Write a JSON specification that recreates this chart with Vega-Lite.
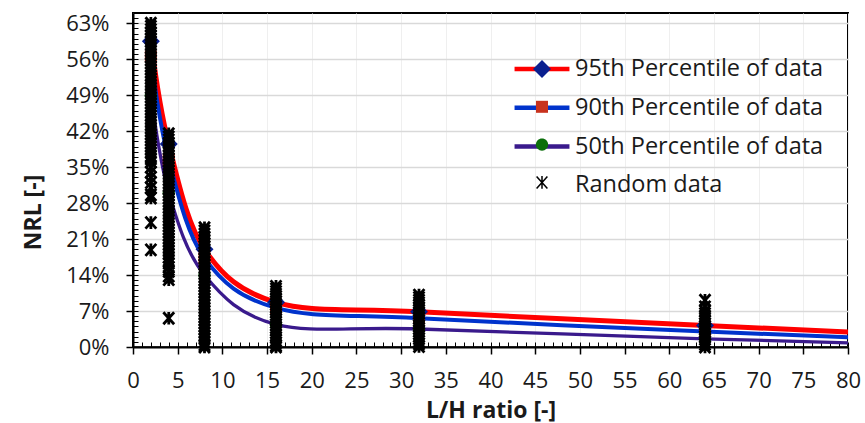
{
"$schema": "https://vega.github.io/schema/vega-lite/v6.json",
"width": 715, "height": 334,
"autosize": {"type": "none"},
"padding": {"left": 133, "top": 13, "right": 17, "bottom": 76},
"background": "white",
"config": {
  "view": {"stroke": "black", "strokeWidth": 2},
  "font": "Open Sans",
  "axis": {"labelFont": "Open Sans", "titleFont": "Open Sans", "labelColor": "#1a1a1a", "titleColor": "#1a1a1a"},
  "legend": {"labelFont": "Open Sans"}
},
"datasets": {
  "p95": [{"x":2,"y":0.595},{"x":4,"y":0.395},{"x":8,"y":0.19},{"x":16,"y":0.087},{"x":32,"y":0.0685},{"x":64,"y":0.042},{"x":80,"y":0.029}],
  "p90": [{"x":2,"y":0.565},{"x":4,"y":0.365},{"x":8,"y":0.173},{"x":16,"y":0.076},{"x":32,"y":0.056},{"x":64,"y":0.030},{"x":80,"y":0.019}],
  "p50": [{"x":2,"y":0.49},{"x":4,"y":0.30},{"x":8,"y":0.14},{"x":16,"y":0.044},{"x":32,"y":0.035},{"x":64,"y":0.016},{"x":80,"y":0.008}],
  "rnd": [
    {"x":2,"y":0.630},{"x":2,"y":0.624},{"x":2,"y":0.618},{"x":2,"y":0.612},{"x":2,"y":0.606},{"x":2,"y":0.600},{"x":2,"y":0.594},{"x":2,"y":0.588},{"x":2,"y":0.582},{"x":2,"y":0.576},{"x":2,"y":0.570},{"x":2,"y":0.564},{"x":2,"y":0.558},{"x":2,"y":0.552},{"x":2,"y":0.546},{"x":2,"y":0.540},{"x":2,"y":0.534},{"x":2,"y":0.528},{"x":2,"y":0.522},{"x":2,"y":0.516},{"x":2,"y":0.510},{"x":2,"y":0.504},{"x":2,"y":0.498},{"x":2,"y":0.492},{"x":2,"y":0.486},{"x":2,"y":0.480},{"x":2,"y":0.474},{"x":2,"y":0.468},{"x":2,"y":0.462},{"x":2,"y":0.456},{"x":2,"y":0.450},{"x":2,"y":0.444},{"x":2,"y":0.438},{"x":2,"y":0.432},{"x":2,"y":0.426},{"x":2,"y":0.420},{"x":2,"y":0.414},{"x":2,"y":0.408},{"x":2,"y":0.402},{"x":2,"y":0.396},{"x":2,"y":0.390},{"x":2,"y":0.384},{"x":2,"y":0.378},{"x":2,"y":0.372},{"x":2,"y":0.366},{"x":2,"y":0.360},{"x":2,"y":0.350},{"x":2,"y":0.340},{"x":2,"y":0.330},{"x":2,"y":0.320},{"x":2,"y":0.310},{"x":2,"y":0.296},{"x":2,"y":0.290},{"x":2,"y":0.242},{"x":2,"y":0.189},
    {"x":4,"y":0.415},{"x":4,"y":0.409},{"x":4,"y":0.403},{"x":4,"y":0.397},{"x":4,"y":0.391},{"x":4,"y":0.385},{"x":4,"y":0.379},{"x":4,"y":0.373},{"x":4,"y":0.367},{"x":4,"y":0.361},{"x":4,"y":0.355},{"x":4,"y":0.349},{"x":4,"y":0.343},{"x":4,"y":0.337},{"x":4,"y":0.331},{"x":4,"y":0.325},{"x":4,"y":0.319},{"x":4,"y":0.313},{"x":4,"y":0.307},{"x":4,"y":0.301},{"x":4,"y":0.295},{"x":4,"y":0.289},{"x":4,"y":0.283},{"x":4,"y":0.277},{"x":4,"y":0.271},{"x":4,"y":0.265},{"x":4,"y":0.259},{"x":4,"y":0.253},{"x":4,"y":0.247},{"x":4,"y":0.241},{"x":4,"y":0.235},{"x":4,"y":0.229},{"x":4,"y":0.223},{"x":4,"y":0.217},{"x":4,"y":0.211},{"x":4,"y":0.205},{"x":4,"y":0.199},{"x":4,"y":0.193},{"x":4,"y":0.187},{"x":4,"y":0.181},{"x":4,"y":0.175},{"x":4,"y":0.169},{"x":4,"y":0.163},{"x":4,"y":0.155},{"x":4,"y":0.147},{"x":4,"y":0.138},{"x":4,"y":0.131},{"x":4,"y":0.056},
    {"x":8,"y":0.232},{"x":8,"y":0.226},{"x":8,"y":0.220},{"x":8,"y":0.214},{"x":8,"y":0.208},{"x":8,"y":0.202},{"x":8,"y":0.196},{"x":8,"y":0.190},{"x":8,"y":0.184},{"x":8,"y":0.178},{"x":8,"y":0.172},{"x":8,"y":0.166},{"x":8,"y":0.160},{"x":8,"y":0.154},{"x":8,"y":0.148},{"x":8,"y":0.142},{"x":8,"y":0.136},{"x":8,"y":0.130},{"x":8,"y":0.124},{"x":8,"y":0.118},{"x":8,"y":0.112},{"x":8,"y":0.106},{"x":8,"y":0.100},{"x":8,"y":0.094},{"x":8,"y":0.088},{"x":8,"y":0.082},{"x":8,"y":0.076},{"x":8,"y":0.070},{"x":8,"y":0.064},{"x":8,"y":0.058},{"x":8,"y":0.052},{"x":8,"y":0.046},{"x":8,"y":0.040},{"x":8,"y":0.034},{"x":8,"y":0.028},{"x":8,"y":0.022},{"x":8,"y":0.016},{"x":8,"y":0.010},{"x":8,"y":0.004},{"x":8,"y":0.0},
    {"x":16,"y":0.118},{"x":16,"y":0.113},{"x":16,"y":0.108},{"x":16,"y":0.103},{"x":16,"y":0.098},{"x":16,"y":0.093},{"x":16,"y":0.088},{"x":16,"y":0.083},{"x":16,"y":0.078},{"x":16,"y":0.073},{"x":16,"y":0.068},{"x":16,"y":0.063},{"x":16,"y":0.058},{"x":16,"y":0.053},{"x":16,"y":0.048},{"x":16,"y":0.043},{"x":16,"y":0.038},{"x":16,"y":0.033},{"x":16,"y":0.028},{"x":16,"y":0.023},{"x":16,"y":0.018},{"x":16,"y":0.013},{"x":16,"y":0.008},{"x":16,"y":0.003},{"x":16,"y":0.0},
    {"x":32,"y":0.101},{"x":32,"y":0.096},{"x":32,"y":0.091},{"x":32,"y":0.086},{"x":32,"y":0.081},{"x":32,"y":0.076},{"x":32,"y":0.071},{"x":32,"y":0.066},{"x":32,"y":0.061},{"x":32,"y":0.056},{"x":32,"y":0.051},{"x":32,"y":0.046},{"x":32,"y":0.041},{"x":32,"y":0.036},{"x":32,"y":0.031},{"x":32,"y":0.026},{"x":32,"y":0.021},{"x":32,"y":0.016},{"x":32,"y":0.011},{"x":32,"y":0.006},{"x":32,"y":0.001},
    {"x":64,"y":0.091},{"x":64,"y":0.078},{"x":64,"y":0.070},{"x":64,"y":0.065},{"x":64,"y":0.060},{"x":64,"y":0.055},{"x":64,"y":0.050},{"x":64,"y":0.045},{"x":64,"y":0.040},{"x":64,"y":0.035},{"x":64,"y":0.030},{"x":64,"y":0.025},{"x":64,"y":0.020},{"x":64,"y":0.015},{"x":64,"y":0.010},{"x":64,"y":0.005},{"x":64,"y":0.0}
  ]
},
"resolve": {"axis": {"x": "independent", "y": "independent"}},
"layer": [
  {
    "data": {"name": "p95"},
    "mark": {"type": "line", "interpolate": "cardinal", "strokeWidth": 5, "clip": true},
    "encoding": {
      "x": {"field": "x", "type": "quantitative",
        "scale": {"domain": [0, 80], "nice": false, "zero": false},
        "axis": {"orient": "bottom", "values": [0,5,10,15,20,25,30,35,40,45,50,55,60,65,70,75,80],
          "tickSize": 7, "tickWidth": 1.5, "tickColor": "black", "domainColor": "black", "domainWidth": 2,
          "labelFontSize": 22, "labelPadding": 16, "labelFlush": false, "labelOverlap": false,
          "grid": true, "gridColor": "#efefef", "gridWidth": 1,
          "title": "L/H ratio [-]", "titleFontSize": 23, "titleFontWeight": "bold", "titleY": 63, "titleBaseline": "middle"}},
      "y": {"field": "y", "type": "quantitative",
        "scale": {"domain": [0, 0.65], "nice": false, "zero": true},
        "axis": {"orient": "left", "values": [0,0.07,0.14,0.21,0.28,0.35,0.42,0.49,0.56,0.63], "format": ".0%",
          "tickSize": 7, "tickWidth": 1.5, "tickColor": "black", "domainColor": "black", "domainWidth": 2,
          "labelFontSize": 22, "labelPadding": 17, "labelOverlap": false,
          "grid": true, "gridColor": "#d9d9d9", "gridWidth": 1.5,
          "title": "NRL [-]", "titleFontSize": 23, "titleFontWeight": "bold", "titleX": -100, "titleY": 199, "titleBaseline": "middle", "titleAngle": 270}},
      "stroke": {"datum": "95th Percentile of data", "type": "nominal",
        "scale": {"domain": ["95th Percentile of data", "90th Percentile of data", "50th Percentile of data", "Random data"],
                  "range": ["#ff0000", "#0033cc", "#3a1a8c", "transparent"]},
        "legend": {"orient": "none", "legendX": 391.5, "legendY": 38.5, "title": null, "padding": 0,
          "symbolType": "M-1.83,0L1.83,0", "symbolSize": 900, "symbolStrokeWidth": 4.5,
          "labelFontSize": 23.5, "labelColor": "#1a1a1a", "labelOffset": 15.5, "labelLimit": 400, "rowPadding": 9.8, "zindex": 1}}
    }
  },
  {
    "data": {"name": "p90"},
    "mark": {"type": "line", "interpolate": "cardinal", "strokeWidth": 4, "clip": true},
    "encoding": {
      "x": {"field": "x", "type": "quantitative",
        "axis": {"orient": "bottom", "values": [0,1,2,3,4,5,6,7,8,9,10,11,12,13,14,15,16,17,18,19,20,21,22,23,24,25,26,27,28,29,30,31,32,33,34,35,36,37,38,39,40,41,42,43,44,45,46,47,48,49,50,51,52,53,54,55,56,57,58,59,60,61,62,63,64,65,66,67,68,69,70,71,72,73,74,75,76,77,78,79,80],
          "tickSize": -5, "tickWidth": 1, "tickColor": "black", "domain": false, "labels": false, "grid": false, "title": null}},
      "y": {"field": "y", "type": "quantitative",
        "axis": {"orient": "left", "values": [0,0.01,0.02,0.03,0.04,0.05,0.06,0.07,0.08,0.09,0.1,0.11,0.12,0.13,0.14,0.15,0.16,0.17,0.18,0.19,0.2,0.21,0.22,0.23,0.24,0.25,0.26,0.27,0.28,0.29,0.3,0.31,0.32,0.33,0.34,0.35,0.36,0.37,0.38,0.39,0.4,0.41,0.42,0.43,0.44,0.45,0.46,0.47,0.48,0.49,0.5,0.51,0.52,0.53,0.54,0.55,0.56,0.57,0.58,0.59,0.6,0.61,0.62,0.63,0.64,0.65],
          "tickSize": -5, "tickWidth": 1, "tickColor": "black", "domain": false, "labels": false, "grid": false, "title": null}},
      "stroke": {"datum": "90th Percentile of data", "type": "nominal"}
    }
  },
  {
    "data": {"name": "p50"},
    "mark": {"type": "line", "interpolate": "cardinal", "strokeWidth": 3.3, "clip": true},
    "encoding": {
      "x": {"field": "x", "type": "quantitative", "axis": null},
      "y": {"field": "y", "type": "quantitative", "axis": null},
      "stroke": {"datum": "50th Percentile of data", "type": "nominal"}
    }
  },
  {
    "data": {"name": "p95"},
    "transform": [{"filter": "datum.x <= 64"}],
    "mark": {"type": "point", "filled": false, "opacity": 1, "strokeWidth": 1.5, "size": 900},
    "encoding": {
      "x": {"field": "x", "type": "quantitative", "axis": null},
      "y": {"field": "y", "type": "quantitative", "axis": null},
      "shape": {"datum": "95th", "type": "nominal",
        "scale": {"domain": ["95th", "90th", "50th", "Random"],
          "range": ["M0,-0.6L0.6,0L0,0.6L-0.6,0Z", "M-0.4,-0.4L0.4,-0.4L0.4,0.4L-0.4,0.4Z", "M0.41,0A0.41,0.41,0,1,1,-0.41,0A0.41,0.41,0,1,1,0.41,0Z", "M-0.36,-0.4L0.36,0.4M-0.36,0.4L0.36,-0.4M0,-0.42L0,0.42"]},
        "legend": {"orient": "none", "legendX": 393, "legendY": 40, "title": null, "padding": 0, "symbolSize": 900, "symbolStrokeWidth": 1.5,
          "labelExpr": "''", "labelFontSize": 23, "labelOffset": 15.5, "rowPadding": 9.8, "zindex": 2}},
      "fill": {"datum": "95th", "type": "nominal",
        "scale": {"domain": ["95th", "90th", "50th", "Random"], "range": ["#0a1f8f", "#c8321e", "#0b6e0b", "transparent"]},
        "legend": {"orient": "none", "legendX": 393, "legendY": 40, "title": null, "padding": 0, "symbolSize": 900, "symbolStrokeWidth": 1.5,
          "labelExpr": "''", "labelFontSize": 23, "labelOffset": 15.5, "rowPadding": 9.8, "zindex": 2}},
      "color": {"datum": "95th", "type": "nominal",
        "scale": {"domain": ["95th", "90th", "50th", "Random"], "range": ["transparent", "transparent", "transparent", "#000000"]},
        "legend": {"orient": "none", "legendX": 393, "legendY": 40, "title": null, "padding": 0, "symbolSize": 900, "symbolStrokeWidth": 1.5,
          "labelExpr": "''", "labelFontSize": 23, "labelOffset": 15.5, "rowPadding": 9.8, "zindex": 2}}
    }
  },
  {
    "data": {"name": "p90"},
    "transform": [{"filter": "datum.x <= 64"}],
    "mark": {"type": "point", "filled": false, "opacity": 1, "strokeWidth": 1.5, "size": 900},
    "encoding": {
      "x": {"field": "x", "type": "quantitative", "axis": null},
      "y": {"field": "y", "type": "quantitative", "axis": null},
      "shape": {"datum": "90th", "type": "nominal"},
      "fill": {"datum": "90th", "type": "nominal"},
      "color": {"datum": "90th", "type": "nominal"}
    }
  },
  {
    "data": {"name": "p50"},
    "transform": [{"filter": "datum.x <= 64"}],
    "mark": {"type": "point", "filled": false, "opacity": 1, "strokeWidth": 1.5, "size": 900},
    "encoding": {
      "x": {"field": "x", "type": "quantitative", "axis": null},
      "y": {"field": "y", "type": "quantitative", "axis": null},
      "shape": {"datum": "50th", "type": "nominal"},
      "fill": {"datum": "50th", "type": "nominal"},
      "color": {"datum": "50th", "type": "nominal"}
    }
  },
  {
    "data": {"name": "rnd"},
    "mark": {"type": "point", "filled": false, "opacity": 1, "strokeWidth": 2.8, "size": 900},
    "encoding": {
      "x": {"field": "x", "type": "quantitative", "axis": null},
      "y": {"field": "y", "type": "quantitative", "axis": null},
      "shape": {"datum": "Random", "type": "nominal"},
      "fill": {"datum": "Random", "type": "nominal"},
      "color": {"datum": "Random", "type": "nominal"}
    }
  }
]
}
